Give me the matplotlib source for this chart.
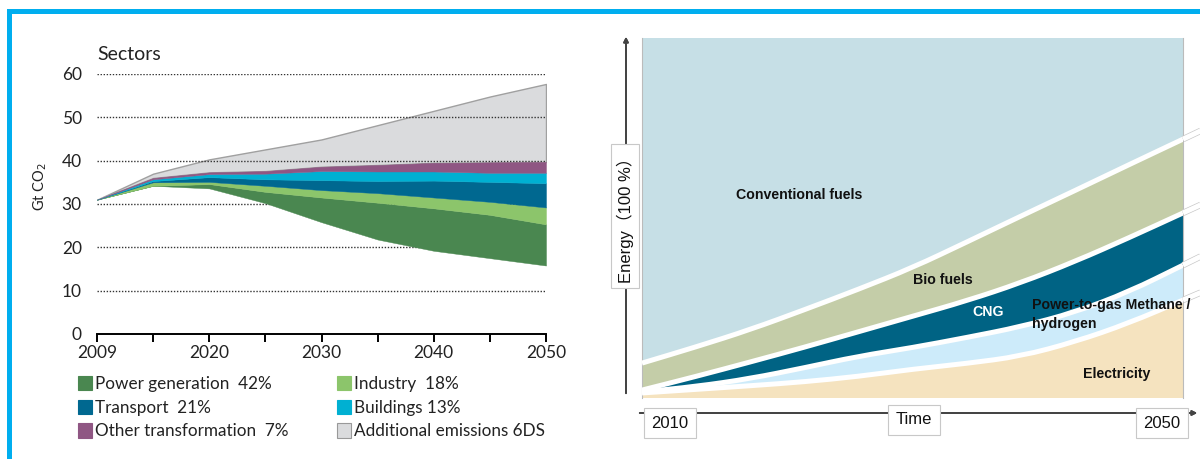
import numpy as np
import matplotlib.pyplot as plt
from matplotlib.patches import Patch, Rectangle, PathPatch
from matplotlib.path import Path
import matplotlib.patheffects as pe

# --- left panel: sector emissions, Gt CO2 (categorical x positions) ---
years = ['2009', '2015', '2020', '2025', '2030', '2035', '2040', '2045', '2050']
year_labels = ['2009', '', '2020', '', '2030', '', '2040', '', '2050']
residual = [31.0, 34.2, 33.6, 30.2, 25.8, 21.8, 19.2, 17.5, 15.8]
power = [0, 0, 1.0, 2.6, 5.7, 8.5, 9.8, 10.0, 9.5]
industry = [0, 0.8, 0.5, 1.4, 1.7, 2.2, 2.5, 3.0, 3.9]
transport = [0, 0.3, 1.1, 1.5, 2.3, 2.8, 3.9, 4.6, 5.6]
buildings = [0, 0.4, 0.7, 1.3, 2.1, 2.2, 2.1, 2.1, 2.4]
other = [0, 0.3, 0.4, 0.6, 1.0, 1.5, 2.0, 2.4, 2.5]
additional = [0, 1.0, 3.0, 5.0, 6.3, 9.2, 12.0, 15.2, 18.0]
sector_names = ['Power generation  42%', 'Industry  18%', 'Transport  21%',
                'Buildings 13%', 'Other transformation  7%', 'Additional emissions 6DS']
yticks_left = [0, 10, 20, 30, 40, 50, 60]

# --- right panel: energy share (%), top edge of each band ---
t_years = [2010, 2014, 2018, 2022, 2026, 2030, 2034, 2038, 2042, 2046, 2050]
top_electricity = [1.4, 2.4, 3.4, 4.5, 6.0, 8.0, 9.6, 11.6, 15.6, 20.8, 27.2]
top_ptg = [1.7, 3.2, 5.4, 8.4, 11.6, 14.0, 16.8, 19.8, 23.8, 29.5, 36.9]
top_cng = [2.2, 6.0, 10.0, 14.1, 18.4, 22.7, 27.0, 32.0, 37.9, 44.5, 51.4]
top_bio = [9.7, 14.2, 19.0, 24.5, 30.2, 36.2, 43.3, 50.5, 57.6, 64.8, 71.9]

W, H = 1200, 459
fig = plt.figure(figsize=(12, 4.59), dpi=100)


def fx(x):
    return x / W


def fy(y):
    return 1 - y / H


def smooth(xs, ys):
    # quadratic bezier through the midpoints, passes the end points exactly
    pts = list(zip(xs, ys))
    verts = [pts[0], ((pts[0][0] + pts[1][0]) / 2, (pts[0][1] + pts[1][1]) / 2)]
    codes = [Path.MOVETO, Path.LINETO]
    for i in range(1, len(pts) - 1):
        mid = ((pts[i][0] + pts[i + 1][0]) / 2, (pts[i][1] + pts[i + 1][1]) / 2)
        verts += [pts[i], mid]
        codes += [Path.CURVE3, Path.CURVE3]
    verts.append(pts[-1])
    codes.append(Path.LINETO)
    return verts, codes


def band(xs, lo, hi):
    v1, c1 = smooth(xs, hi)
    v2, c2 = smooth(xs[::-1], lo[::-1])
    c2[0] = Path.LINETO
    return Path(v1 + v2 + [v1[0]], c1 + c2 + [Path.CLOSEPOLY])


# blue frame
fig.add_artist(Rectangle((fx(7), fy(14)), fx(1200 - 7), 5 / H, color='#00AEEF', lw=0))
fig.add_artist(Rectangle((fx(7), 0), 5 / W, fy(9), color='#00AEEF', lw=0))

# ================= left chart =================
lfont = 'Lato'
ax1 = fig.add_axes([fx(97), fy(334), (546 - 97) / W, (334 - 74) / H])
x = np.arange(len(years))
colors = ['#4A8750', '#8CC56B', '#006890', '#00B0D2', '#8F5683', '#DADBDD']
layers = [power, industry, transport, buildings, other, additional]
polys = ax1.stackplot(x, residual, *layers, colors=['none'] + colors)
polys[0].set_linewidth(0)
for p in polys[1:-1]:
    p.set_zorder(2)
    p.set_linewidth(0.3)
    p.set_edgecolor(p.get_facecolor())
polys[-1].set_zorder(1)
polys[-1].set_edgecolor('#A0A0A0')
polys[-1].set_linewidth(1.0)

ax1.hlines(yticks_left[1:], 0, len(years) - 1, colors='#333333',
           linestyles=(0, (1, 1.2)), lw=1.0, zorder=1.5)

ax1.set_xlim(0, len(years) - 1)
ax1.set_ylim(0, 60)
ax1.set_xticks(x)
ax1.set_xticklabels(year_labels, fontfamily=lfont, fontsize=12.5, color='#222222')
ax1.set_yticks(yticks_left)
ax1.set_yticklabels([str(v) for v in yticks_left], fontfamily=lfont, fontsize=12.5,
                    color='#222222')
for s in ['top', 'right', 'left']:
    ax1.spines[s].set_visible(False)
ax1.spines['bottom'].set_linewidth(1.4)
ax1.tick_params(axis='x', direction='out', length=6, width=1.4, pad=2)
ax1.tick_params(axis='y', length=0, pad=11)
ax1.set_facecolor('none')

fig.text(fx(97), fy(54), 'Sectors', fontfamily=lfont, fontsize=14, color='#222222',
         ha='left', va='center')
fig.text(fx(40), fy(187), 'Gt CO$_2$', fontfamily=lfont, fontsize=10.5, color='#222222',
         rotation=90, ha='center', va='center')

order = [0, 2, 4, 1, 3, 5]
handles = [Patch(facecolor=colors[i], edgecolor='#999999' if i == 5 else colors[i], lw=0.8)
           for i in order]
labels = [sector_names[i] for i in order]
fig.legend(handles, labels, ncol=2, loc='upper left', bbox_to_anchor=(fx(78), fy(376)),
           frameon=False, prop={'family': lfont, 'size': 12.3}, handlelength=0.8,
           handleheight=0.9, handletextpad=0.2, columnspacing=2.85, labelspacing=0.45,
           borderpad=0, borderaxespad=0, labelcolor='#222222')

# ================= right chart =================
ax2 = fig.add_axes([fx(642), fy(398), (1183 - 642) / W, (398 - 38) / H])
bands = [
    ([0] * len(t_years), top_electricity, '#F5E3BF'),
    (top_electricity, top_ptg, '#CDEBFA'),
    (top_ptg, top_cng, '#006384'),
    (top_cng, top_bio, '#C4CDA8'),
    (top_bio, [100] * len(t_years), '#C6DFE6'),
]
for lo, hi, c in bands:
    ax2.add_patch(PathPatch(band(t_years, lo, hi), facecolor=c, lw=0, zorder=1))

for line in [top_electricity, top_ptg, top_cng, top_bio]:
    v, c = smooth(t_years, line)
    ax2.add_patch(PathPatch(Path(v, c), fill=False, edgecolor='white', lw=3.6,
                            capstyle='butt', zorder=3))
    # short continuation past the plot edge
    slope = (line[-1] - line[-2]) / (t_years[-1] - t_years[-2])
    ext_x = [t_years[-1], t_years[-1] + 1.3]
    ext_y = [line[-1], line[-1] + slope * 1.3]
    ax2.plot(ext_x, ext_y, color='white', lw=3.6, solid_capstyle='butt', clip_on=False,
             zorder=3, path_effects=[pe.Stroke(linewidth=4.6, foreground='#C8C8C8'), pe.Normal()])

ax2.set_xlim(t_years[0], t_years[-1])
ax2.set_ylim(0, 100)
ax2.set_xticks([])
ax2.set_yticks([])
for s in ['top', 'bottom']:
    ax2.spines[s].set_visible(False)
for s in ['left', 'right']:
    ax2.spines[s].set_color('#BBBBBB')
    ax2.spines[s].set_linewidth(0.8)

rfont = 'Liberation Sans'
lab = dict(transform=ax2.transAxes, fontfamily=rfont, fontweight='bold', fontsize=10.2,
           va='center', color='#111111')
ax2.text(0.29, 0.565, 'Conventional fuels', ha='center', **lab)
ax2.text(0.556, 0.328, 'Bio fuels', ha='center', **lab)
ax2.text(0.64, 0.238, 'CNG', ha='center', **{**lab, 'color': 'white'})
ax2.text(0.72, 0.232, 'Power-to-gas Methane /\nhydrogen', ha='left', linespacing=1.45, **lab)
ax2.text(0.878, 0.067, 'Electricity', ha='center', **lab)

# axis arrows
fig.add_artist(plt.annotate('', xy=(fx(626), fy(34)), xytext=(fx(626), fy(396)),
                            xycoords='figure fraction',
                            arrowprops=dict(arrowstyle='-|>', color='#444444', lw=1.3,
                                            mutation_scale=7)))
fig.add_artist(plt.annotate('', xy=(fx(1200), fy(413)), xytext=(fx(637), fy(413)),
                            xycoords='figure fraction',
                            arrowprops=dict(arrowstyle='-|>', color='#444444', lw=1.3,
                                            mutation_scale=7)))

box = dict(boxstyle='square,pad=0.45', fc='white', ec='#C8C8C8', lw=0.8)
fig.text(fx(625), fy(216), 'Energy（100 %）', rotation=90, ha='center', va='center',
         fontfamily=['Liberation Sans', 'Noto Sans CJK SC'], fontsize=12, color='#111111',
         bbox=dict(boxstyle='square,pad=0.3', fc='white', ec='#C8C8C8', lw=0.8))
fig.text(fx(670), fy(423), '2010', ha='center', va='center', fontfamily='Liberation Sans',
         fontsize=12, color='#111111', bbox=box)
fig.text(fx(914), fy(420), 'Time', ha='center', va='center', fontfamily='Liberation Sans',
         fontsize=12, color='#111111', bbox=box)
fig.text(fx(1162), fy(423), '2050', ha='center', va='center', fontfamily='Liberation Sans',
         fontsize=12, color='#111111', bbox=box)

fig.savefig('out.png', dpi=100)
